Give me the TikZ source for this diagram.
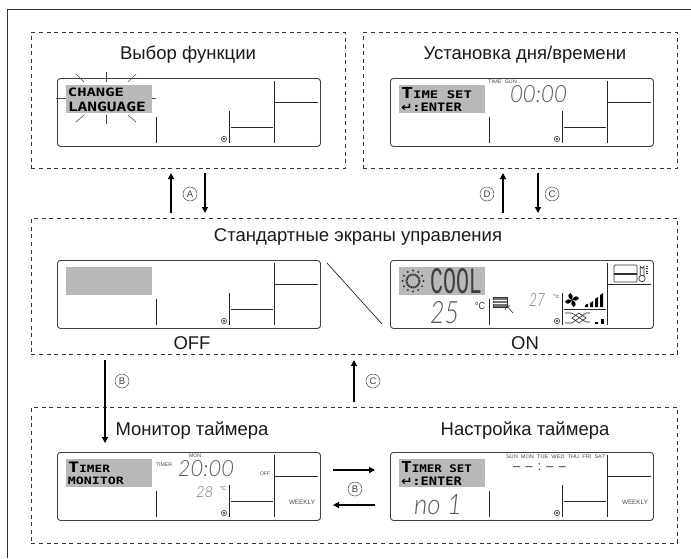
\documentclass[tikz,border=0pt]{standalone}
\usepackage{fontspec}
\usepackage{graphicx}
\usetikzlibrary{arrows.meta}
\setmainfont{Liberation Sans}
\newfontfamily\dvfont{DejaVu Sans}
\newfontfamily\pixfont{DejaVu Sans Mono}
\newfontfamily\segfont[ItalicFont={Lato Light Italic}]{Lato Light}
\newfontfamily\monofontb{Liberation Mono}
\definecolor{lcdgray}{HTML}{B9B9B9}
\definecolor{inkdark}{HTML}{1A1A1A}
\tikzset{
  panel/.style={draw=black!80,line width=0.8pt,dash pattern=on 4pt off 3.6pt,inner sep=0pt,anchor=north west,rectangle},
  lcdbox/.style={draw=black!75,line width=0.9pt,rounded corners=3pt,inner sep=0pt,anchor=north west,rectangle,minimum width=263pt,minimum height=68pt},
  title/.style={inner sep=0pt,font=\fontsize{18.5}{20}\selectfont,text=inkdark},
  lcdline/.style={draw=black!85,line width=0.8pt},
  blink/.style={draw=black!70,line width=0.6pt},
  flow/.style={draw=black,line width=1.2pt,-{Triangle[length=6pt,width=6pt]}},
  fit/.style={inner sep=0pt,text=black},
  circled/.style={circle,draw=black!70,line width=0.5pt,inner sep=0pt,minimum size=14pt,text=black!75,font=\fontsize{9.5}{10}\selectfont}
}
% name, cx, cy, width, height, text colour, text
\newcommand\fittext[7]{\node[fit,text=#6] (#1) at (#2,#3) {\resizebox{#4pt}{#5pt}{#7}};}
\newcommand\lcd[3]{%
  \node[lcdbox] (#1) at (#2,#3) {};
  \begin{scope}[shift={(#2,#3)}]
    \fill[lcdgray] (8.5,7) rectangle (95,35);
    \draw[lcdline] (99,39) -- (99,65);
    \draw[lcdline] (172,33) -- (172,65);
    \draw[lcdline] (217,3) -- (217,65);
    \draw[lcdline] (174,49) -- (216,49);
    \draw[lcdline] (218,24) -- (261,24);
    \draw[black!80,line width=0.6pt] (167,61) circle (2.6);
    \fill[black!85] (167,61) circle (1.2);
  \end{scope}}
\begin{document}
\begin{tikzpicture}[x=1pt,y=-1pt]
\useasboundingbox (0,0) rectangle (691,558);
\fill[white] (0,0) rectangle (691,558);
\draw[draw=black!80,line width=1pt] (691,9) -- (7,9) -- (7,558);

% dashed panels
\node[panel,minimum width=314pt,minimum height=136pt] (pfunc) at (31,32) {};
\node[panel,minimum width=314pt,minimum height=136pt] (ptime) at (363,32) {};
\node[panel,minimum width=646pt,minimum height=136pt] (pstd) at (31,218) {};
\node[panel,minimum width=646pt,minimum height=136pt] (ptimer) at (31,407) {};

% titles
\node[title] (tfunc) at (188,55) {Выбор функции};
\node[title] (ttime) at (525,55) {Установка дня/времени};
\node[title] (tstd) at (358,237) {Стандартные экраны управления};
\node[title] (tmon) at (192,431) {Монитор таймера};
\node[title] (tset) at (525,431) {Настройка таймера};
\node[title] (toff) at (192,343) {OFF};
\node[title] (ton) at (525,343) {ON};

% LCD screens
\lcd{lfunc}{57}{78}
\lcd{ltime}{390}{78}
\lcd{loff}{57}{260}
\lcd{lon}{390}{260}
\lcd{lmon}{57}{452}
\lcd{lset}{390}{452}

% function selection
\fittext{fa}{96}{92}{56}{8.5}{black}{\pixfont\bfseries CHANGE}
\fittext{fb}{107}{107}{78}{9.5}{black}{\pixfont\bfseries LANGUAGE}
\draw[blink] (56,98) -- (66,98);
\draw[blink] (152,98) -- (156,98);
\draw[blink] (106,72) -- (106,82);
\draw[blink] (106,115) -- (106,124);
\draw[blink] (76,74) -- (84,82);
\draw[blink] (128,82) -- (136,74);
\draw[blink] (76,122) -- (84,115);
\draw[blink] (128,115) -- (136,122);

% time set
\fittext{ta}{436.5}{93}{71}{11}{black}{\pixfont\bfseries\Large T\normalsize IME SET}
\fittext{tb}{431.5}{107}{61}{8.5}{black}{{\dvfont\bfseries ↵}\pixfont\bfseries :ENTER}
\fittext{tc}{502.5}{82}{29}{3.6}{black!70}{TIME\ \ SUN}
\fittext{td}{538.5}{94.5}{57}{17}{black!65}{\segfont\itshape 00:00}

% ON screen
\fittext{oa}{456}{281.5}{52}{25}{black!75}{\monofontb COOL}
\foreach \a in {0,30,...,330}{\fill[black!80] (413,281)+(\a:10.5) circle (1.1);}
\draw[black!80,line width=2pt,dash pattern=on 1.2pt off 0.6pt] (413,281) circle (6.5);
\fittext{ob}{444.5}{313}{29}{22}{black!65}{\segfont\itshape 25}
\fittext{oc}{480}{306}{10}{7}{black!80}{°C}
\draw[black!80,fill=black!55,line width=0.5pt] (493,297) rectangle (507,307);
\draw[white,line width=0.6pt] (493,300.5) -- (507,300.5) (493,303.5) -- (507,303.5);
\draw[black!80,line width=0.6pt] (507,306) -- (513,313) (505,310) -- (507,306) -- (510,306);
\fittext{od}{537}{299.5}{16}{13}{black!55}{\segfont\itshape 27}
\fittext{oe}{556}{297}{6}{4}{black!70}{°c}
% fan and speed bars
\foreach \a in {20,110,200,290}{\fill[black,rotate around={\a:(572,300)}] (572,300) .. controls (568,296) and (570,293) .. (573,293) .. controls (575,295) and (574,298) .. (572,300) -- cycle;}
\fill[black] (585,307) -- (585,305) -- (588,303.5) -- (588,307) -- cycle;
\fill[black] (590,307) -- (590,303) -- (593,301) -- (593,307) -- cycle;
\fill[black] (595,307) -- (595,299) -- (598,297) -- (598,307) -- cycle;
\fill[black] (600,307) -- (600,295) -- (603,293) -- (603,307) -- cycle;
% louver pattern
\draw[black!85,line width=0.6pt] (565,313) -- (572,313) -- (586,322) -- (590,322)
  (565,323) -- (572,323) -- (586,313) -- (590,313)
  (572,318) -- (579,313) -- (586,318) -- (579,323) -- cycle;
\fill[black] (595,322) rectangle (598,324);
\fill[black] (601,319) rectangle (604,324);
% unit and thermometer icons
\draw[black!80,line width=0.7pt,rounded corners=1pt] (614,265) rectangle (637,282);
\draw[black!80,line width=1.3pt] (614,274) -- (637,274);
\draw[black!80,line width=0.7pt] (640.3,278) -- (640.3,266.5) arc[start angle=180,end angle=0,radius=1.8] -- (643.9,278);
\draw[black!80,fill=white,line width=0.7pt] (642,278.5) circle (3.2);
\draw[black!80,line width=0.6pt] (646,266) -- (648,266) (646,268.5) -- (648,268.5) (646,271) -- (648,271) (646,273.5) -- (648,273.5);

% diagonal separator
\coordinate (da) at (327,263);
\coordinate (db) at (382,324);
\draw[draw=black!85,line width=0.7pt] (da) -- (db);

% timer monitor
\fittext{ma}{89}{467.5}{42}{10.5}{black}{\pixfont\bfseries\Large T\normalsize IMER}
\fittext{mb}{96}{481}{56}{7.5}{black}{\pixfont\bfseries MONITOR}
\fittext{mc}{164}{465}{16}{3.6}{black!70}{TIMER}
\fittext{md}{195}{456}{12}{3.6}{black!70}{MON}
\fittext{me}{206}{469}{56}{16}{black!65}{\segfont\itshape 20:00}
\fittext{mf}{265}{474}{10.5}{3.6}{black!70}{OFF}
\fittext{mg}{204.5}{492.5}{17}{11}{black!55}{\segfont\itshape 28}
\fittext{mh}{223}{489}{6}{4}{black!70}{°C}
\fittext{mi}{302}{502}{26}{4.4}{black!70}{WEEKLY}

% timer set
\fittext{sa}{436.5}{467.5}{71}{11}{black}{\pixfont\bfseries\Large T\normalsize IMER SET}
\fittext{sb}{431.5}{481}{61}{8.5}{black}{{\dvfont\bfseries ↵}\pixfont\bfseries :ENTER}
\fittext{sc}{555.5}{456.5}{99}{3.6}{black!70}{SUN\ \ MON\ \ TUE\ \ WED\ \ THU\ \ FRI\ \ SAT}
\node[inner sep=0pt,font=\fontsize{13}{14}\selectfont,text=black!80] (sd) at (539.5,467) {–\hspace{5pt}–\hspace{5pt}:\hspace{5pt}–\hspace{5pt}–};
\fittext{se}{438}{505}{48}{20}{black!65}{\segfont\itshape no 1}
\fittext{sf}{635}{502}{26}{4.4}{black!70}{WEEKLY}

% connector end points
\coordinate (a1) at (171,213); \coordinate (a2) at (171,173);
\coordinate (a3) at (205,173); \coordinate (a4) at (205,213);
\coordinate (d1) at (503,213); \coordinate (d2) at (503,173);
\coordinate (c1) at (538,173); \coordinate (c2) at (538,213);
\coordinate (b1) at (105,360); \coordinate (b2) at (105,443);
\coordinate (e1) at (354,402); \coordinate (e2) at (354,360);
\coordinate (h1) at (333,470); \coordinate (h2) at (375,470);
\coordinate (h3) at (375,505); \coordinate (h4) at (333,505);
\draw[flow] (a1) -- (a2);
\draw[flow] (a3) -- (a4);
\draw[flow] (d1) -- (d2);
\draw[flow] (c1) -- (c2);
\draw[flow] (b1) -- (b2);
\draw[flow] (e1) -- (e2);
\draw[flow] (h1) -- (h2);
\draw[flow] (h3) -- (h4);

% circled labels
\node[circled] (la) at (190,194) {A};
\node[circled] (ld) at (487,194) {D};
\node[circled] (lc) at (552,194) {C};
\node[circled] (lb) at (122,381) {B};
\node[circled] (le) at (373,381) {C};
\node[circled] (lf) at (355,489) {B};
\end{tikzpicture}
\end{document}
